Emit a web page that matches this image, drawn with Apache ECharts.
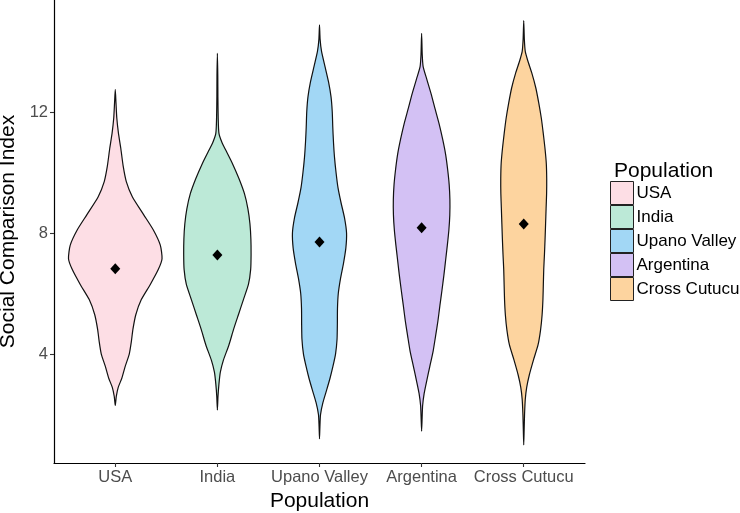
<!DOCTYPE html>
<html>
<head>
<meta charset="utf-8">
<script src="https://cdn.jsdelivr.net/npm/echarts@6/dist/echarts.min.js"></script>
<style>
html,body{margin:0;padding:0;background:#fff;}
#chart{width:740px;height:513px;}
</style>
</head>
<body>
<div id="chart"></div>
<script>
// ---- data ----
const categories = ['USA', 'India', 'Upano Valley', 'Argentina', 'Cross Cutucu'];
const colors = ['#FDDEE5', '#BCE9D7', '#A2D7F5', '#D3C1F4', '#FDD49F'];
const means = [6.82, 7.27, 7.70, 8.17, 8.30];
const yTicks = [4, 8, 12];
// violin profiles: [Social Comparison Index, half width in category units]
const usaProfile = [[2.3,0],[2.6,0.010],[2.9,0.029],[3.2,0.064],[3.6,0.098],[4.0,0.137],[4.4,0.157],[4.8,0.172],[5.3,0.201],[5.8,0.255],[6.3,0.343],[6.8,0.422],[7.15,0.458],[7.6,0.441],[8.1,0.373],[8.6,0.279],[9.2,0.167],[9.7,0.108],[10.2,0.078],[10.8,0.054],[11.3,0.031],[11.8,0.015],[12.3,0.007],[12.75,0]];
const indiaProfile = [[2.15,0],[2.6,0.006],[3.0,0.015],[3.4,0.029],[3.8,0.059],[4.3,0.113],[4.8,0.157],[5.3,0.206],[5.8,0.255],[6.3,0.304],[6.8,0.326],[7.3,0.330],[7.8,0.328],[8.3,0.319],[8.8,0.299],[9.3,0.265],[9.8,0.211],[10.3,0.147],[10.7,0.088],[11.0,0.044],[11.3,0.015],[11.8,0.008],[12.5,0.005],[13.2,0.004],[13.94,0]];
const upanoProfile = [[1.2,0],[1.6,0.004],[2.0,0.010],[2.4,0.034],[2.8,0.069],[3.2,0.103],[3.6,0.132],[4.0,0.157],[4.5,0.172],[5.0,0.175],[5.5,0.176],[6.0,0.184],[6.5,0.206],[7.0,0.235],[7.5,0.258],[8.0,0.265],[8.5,0.245],[9.0,0.211],[9.5,0.181],[10.0,0.162],[10.5,0.147],[11.0,0.137],[11.5,0.130],[12.0,0.125],[12.5,0.113],[13.0,0.088],[13.5,0.054],[14.0,0.020],[14.4,0.006],[14.88,0]];
const argentinaProfile = [[1.45,0],[1.9,0.005],[2.3,0.010],[2.7,0.025],[3.1,0.049],[3.6,0.081],[4.1,0.113],[4.6,0.137],[5.1,0.160],[5.6,0.179],[6.1,0.199],[6.6,0.218],[7.1,0.235],[7.6,0.252],[8.1,0.267],[8.6,0.276],[9.1,0.277],[9.6,0.270],[10.1,0.255],[10.6,0.235],[11.1,0.206],[11.6,0.172],[12.1,0.132],[12.6,0.093],[13.1,0.049],[13.5,0.015],[13.9,0.006],[14.6,0]];
const crossProfile = [[1.0,0],[1.5,0.004],[2.0,0.008],[2.5,0.015],[2.9,0.029],[3.3,0.054],[3.8,0.095],[4.3,0.140],[4.8,0.165],[5.3,0.180],[5.8,0.188],[6.3,0.192],[6.8,0.196],[7.3,0.203],[7.8,0.209],[8.3,0.214],[8.8,0.219],[9.3,0.224],[9.8,0.225],[10.3,0.221],[10.8,0.208],[11.3,0.191],[11.8,0.172],[12.3,0.147],[12.8,0.118],[13.3,0.078],[13.7,0.039],[14.0,0.015],[14.4,0.006],[15.02,0]];
const profiles = [usaProfile, indiaProfile, upanoProfile, argentinaProfile, crossProfile];

const FONT = '"Liberation Sans", Arial, Helvetica, sans-serif';

function violinSeries(idx) {
  const prof = profiles[idx];
  return {
    type: 'custom',
    name: categories[idx],
    itemStyle: { color: colors[idx] },
    data: [[idx + 1]],
    z: 2,
    renderItem: function (params, api) {
      const cx = api.value(0);
      const pts = [];
      for (let i = 0; i < prof.length; i++) {
        pts.push(api.coord([cx - prof[i][1], prof[i][0]]));
      }
      for (let i = prof.length - 2; i >= 1; i--) {
        pts.push(api.coord([cx + prof[i][1], prof[i][0]]));
      }
      return {
        type: 'polygon',
        shape: { points: pts, smooth: 0.2 },
        style: { fill: colors[idx], stroke: '#111', lineWidth: 1.2 }
      };
    }
  };
}

const series = categories.map((c, i) => violinSeries(i));
series.push({
  type: 'scatter',
  name: 'mean',
  symbol: 'diamond',
  symbolSize: [10, 11],
  itemStyle: { color: '#000', opacity: 1 },
  z: 5,
  data: means.map((m, i) => [i + 1, m])
});

const chart = echarts.init(document.getElementById('chart'), null, { renderer: 'canvas' });
chart.setOption({
  animation: false,
  backgroundColor: '#fff',
  title: {
    text: 'Population',
    left: 609,
    top: 156,
    textStyle: { fontFamily: FONT, fontSize: 21, fontWeight: 'normal', color: '#000' }
  },
  legend: {
    data: categories,
    orient: 'vertical',
    left: 610,
    top: 181,
    itemWidth: 23,
    itemHeight: 23,
    itemGap: 0,
    icon: 'rect',
    padding: 0,
    itemStyle: { borderColor: '#222', borderWidth: 1 },
    textStyle: { fontFamily: FONT, fontSize: 17, color: '#000', padding: [0, 0, 0, -2] }
  },
  grid: { left: 54, right: 155, top: 0, bottom: 50, containLabel: false, outerBoundsMode: 'none' },
  xAxis: {
    type: 'value',
    min: 0.4,
    max: 5.6,
    name: 'Population',
    nameLocation: 'middle',
    nameGap: 27,
    nameTextStyle: { fontFamily: FONT, fontSize: 21, color: '#000' },
    axisLine: { show: true, onZero: false, lineStyle: { color: '#000', width: 1.2 } },
    axisTick: { show: true, length: 4, customValues: [1, 2, 3, 4, 5], lineStyle: { color: '#333', width: 1.1 } },
    axisLabel: {
      customValues: [1, 2, 3, 4, 5],
      margin: 6,
      fontFamily: FONT, fontSize: 16.5, color: '#4d4d4d',
      formatter: function (v) { return categories[Math.round(v) - 1] || ''; }
    },
    splitLine: { show: false }
  },
  yAxis: {
    type: 'value',
    min: 0.4,
    max: 15.7,
    name: 'Social Comparison Index',
    nameLocation: 'middle',
    nameGap: 33,
    nameTextStyle: { fontFamily: FONT, fontSize: 21, color: '#000' },
    axisLine: { show: true, lineStyle: { color: '#000', width: 1.2 } },
    axisTick: { show: true, length: 4, customValues: yTicks, lineStyle: { color: '#333', width: 1.1 } },
    axisLabel: { customValues: yTicks, margin: 6, fontFamily: FONT, fontSize: 16.5, color: '#4d4d4d' },
    splitLine: { show: false }
  },
  series: series
});
</script>
</body>
</html>
